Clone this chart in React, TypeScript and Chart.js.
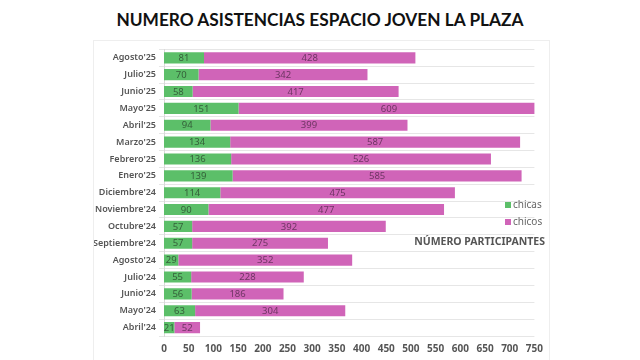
import React, { useEffect, useRef } from "react";
import { Chart, registerables } from "chart.js";

Chart.register(...registerables);

const months = [
  "Agosto'25", "Julio'25", "Junio'25", "Mayo'25", "Abril'25", "Marzo'25",
  "Febrero'25", "Enero'25", "Diciembre'24", "Noviembre'24", "Octubre'24",
  "Septiembre'24", "Agosto'24", "Julio'24", "Junio'24", "Mayo'24", "Abril'24",
];
const chicas = [81, 70, 58, 151, 94, 134, 136, 139, 114, 90, 57, 57, 29, 55, 56, 63, 21];
const chicos = [428, 342, 417, 609, 399, 587, 526, 585, 475, 477, 392, 275, 352, 228, 186, 304, 52];
const seriesNames = ["chicas", "chicos"];
const seriesColors = ["#5cbf69", "#d064b8"];
const titleText = "NUMERO ASISTENCIAS ESPACIO JOVEN LA PLAZA";
const sideNote = "NÚMERO PARTICIPANTES";
const xMax = 750;
const xStep = 50;

const FONT = "'Noto Sans', sans-serif";

const labelPlugin = {
  id: "segLabels",
  afterDatasetsDraw(chart: any) {
    const ctx = chart.ctx;
    ctx.save();
    ctx.font = `9.5px ${FONT}`;
    ctx.textAlign = "center";
    ctx.textBaseline = "middle";
    chart.data.datasets.forEach((ds: any, di: number) => {
      const meta = chart.getDatasetMeta(di);
      meta.data.forEach((el: any, i: number) => {
        const p = el.getProps(["x", "y", "base"], true);
        ctx.fillStyle = di === 0 ? "#35603a" : "#6e3563";
        ctx.fillText(String(ds.data[i]), (p.x + p.base) / 2, p.y + 0.5);
      });
    });
    ctx.restore();
  },
};

const sidePlugin = {
  id: "sideLegend",
  afterDraw(chart: any) {
    const ctx = chart.ctx;
    ctx.save();
    ctx.textBaseline = "middle";
    ctx.textAlign = "left";
    ctx.font = `10px ${FONT}`;
    const lx = 411;
    const ys = [164, 181];
    seriesNames.forEach((n, i) => {
      ctx.fillStyle = seriesColors[i];
      ctx.fillRect(lx, ys[i] - 3, 6, 6);
      ctx.fillStyle = "#666";
      ctx.fillText(n, lx + 8, ys[i]);
    });
    ctx.font = `bold 10.5px ${FONT}`;
    ctx.fillStyle = "#555";
    ctx.textAlign = "right";
    ctx.fillText(sideNote, 451, 201);
    ctx.restore();
  },
};

export default function App() {
  const ref = useRef<HTMLCanvasElement>(null);
  useEffect(() => {
    if (!ref.current) return;
    const chart = new Chart(ref.current, {
      type: "bar",
      data: {
        labels: months,
        datasets: seriesNames.map((n, i) => ({
          label: n,
          data: i === 0 ? chicas : chicos,
          backgroundColor: seriesColors[i],
          borderWidth: 0,
          barPercentage: 0.66,
          categoryPercentage: 1,
        })),
      },
      options: {
        indexAxis: "y",
        animation: false,
        responsive: false,
        maintainAspectRatio: false,
        layout: { padding: { left: 0, right: 13, top: 8, bottom: 0 } },
        plugins: {
          legend: { display: false },
          tooltip: { enabled: false },
          title: { display: false },
        },
        scales: {
          x: {
            stacked: true,
            min: 0,
            max: xMax,
            ticks: {
              stepSize: xStep,
              padding: 7,
              color: "#555",
              font: { family: FONT, size: 10, weight: "bold" },
            },
            grid: { display: false, drawTicks: false },
            border: { display: false },
            afterFit: (s: any) => { s.height = 25; },
          },
          y: {
            stacked: true,
            ticks: {
              padding: 3,
              color: "#555",
              font: { family: FONT, size: 9, weight: "600" },
            },
            grid: { color: "#e6e6e6", tickLength: 5, offset: true },
            border: { display: true, color: "#d9d9d9" },
            afterFit: (s: any) => { s.width = 70; },
          },
        },
      },
      plugins: [labelPlugin, sidePlugin],
    } as any);
    return () => chart.destroy();
  }, []);

  return (
    <div style={{ position: "absolute", left: 0, top: 0, width: 640, height: 360, background: "#fff", overflow: "hidden" }}>
      <div
        style={{
          position: "absolute", left: 0, top: 9, width: 640, textAlign: "center",
          fontFamily: "Lato, sans-serif", fontWeight: 700, fontSize: 17.3, color: "#111", lineHeight: "22px",
        }}
      >
        {titleText}
      </div>
      <div style={{ position: "absolute", left: 93, top: 40, width: 455, height: 330, border: "1px solid #eeeeee" }}>
        <canvas ref={ref} width={456} height={320} style={{ position: "absolute", left: 0, top: 0 }} />
      </div>
    </div>
  );
}
